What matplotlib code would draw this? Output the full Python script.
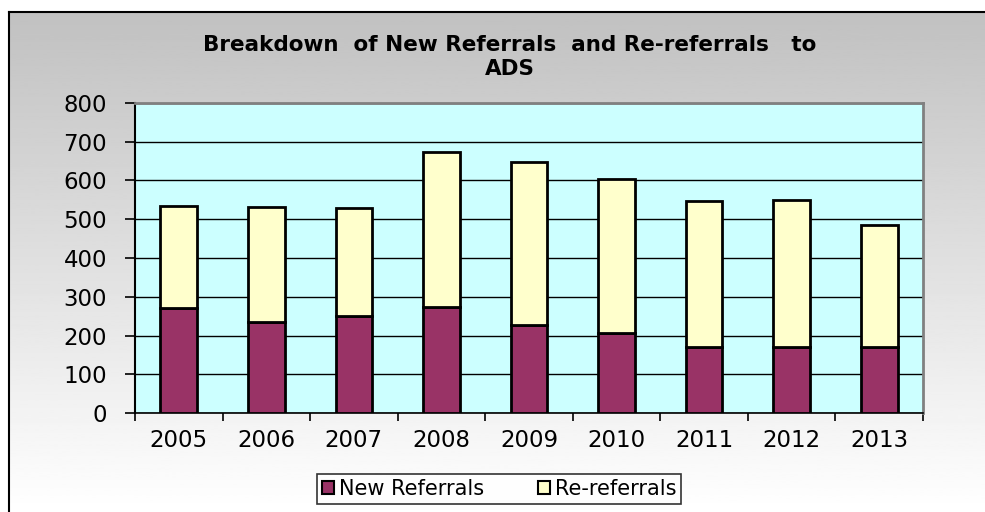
import matplotlib.pyplot as plt
import numpy as np
from matplotlib.ticker import FixedLocator, NullFormatter

years = ["2005", "2006", "2007", "2008", "2009", "2010", "2011", "2012", "2013"]
new_referrals = [272, 234, 250, 275, 228, 207, 172, 172, 172]
re_referrals = [263, 297, 278, 399, 418, 396, 376, 378, 314]

plt.rcParams['font.family'] = ['DejaVu Sans']

fig = plt.figure(figsize=(9.85, 5.12), dpi=100)
fig.patch.set_facecolor("white")

# gradient background of the chart area, gray at top fading to white
bg = fig.add_axes([9 / 985, 0, 1 - 9 / 985, 1 - 12 / 512], zorder=-10)
grad = np.linspace(0, 1, 256).reshape(-1, 1)
bg.imshow(grad, aspect="auto", cmap="gray", vmin=-3.1, vmax=1.0,
          extent=[0, 1, 0, 1], origin="upper")
bg.set_xlim(0, 1)
bg.set_ylim(0, 1)
bg.set_xticks([])
bg.set_yticks([])
for side in ["right", "bottom"]:
    bg.spines[side].set_visible(False)
bg.spines["top"].set_linewidth(1.5)
bg.spines["left"].set_linewidth(1.5)

ax = fig.add_axes([135 / 985, 1 - 413.3 / 512, 788 / 985, 310.6 / 512])
ax.set_facecolor("#CCFFFF")

x = np.arange(len(years))
ax.bar(x, new_referrals, width=0.42, color="#993366", edgecolor="black",
       linewidth=2, label="New Referrals", zorder=3)
ax.bar(x, re_referrals, width=0.42, bottom=new_referrals, color="#FFFFCC",
       edgecolor="black", linewidth=2, label="Re-referrals", zorder=3)

ax.set_ylim(0, 800)
ax.set_xlim(-0.5, len(years) - 0.5)
ax.set_yticks(range(0, 801, 100))
ax.yaxis.grid(True, color="black", linewidth=1)
ax.set_axisbelow(True)

ax.set_xticks(x)
ax.set_xticklabels(years)
ax.xaxis.set_minor_locator(FixedLocator(np.arange(-0.5, len(years), 1)))
ax.xaxis.set_minor_formatter(NullFormatter())
ax.tick_params(axis="x", which="major", length=0, pad=11, labelsize=16.5)
ax.tick_params(axis="x", which="minor", length=6, width=1.2, direction="out")
ax.tick_params(axis="y", length=7, width=1.2, direction="out", pad=13,
               labelsize=16.5)

ax.spines["left"].set_linewidth(1.5)
ax.spines["bottom"].set_linewidth(1.2)
ax.spines["top"].set_color("#808080")
ax.spines["right"].set_color("#808080")
ax.spines["top"].set_linewidth(2)
ax.spines["right"].set_linewidth(2)

fig.text(510 / 985, 1 - 45 / 512, "Breakdown  of New Referrals  and Re-referrals   to",
         ha="center", va="center", fontsize=15.5, fontweight="bold")
fig.text(510 / 985, 1 - 69 / 512, "ADS", ha="center", va="center",
         fontsize=15.5, fontweight="bold")

leg = fig.legend(loc="center", bbox_to_anchor=(499 / 985, 1 - 489 / 512),
                 ncol=2, frameon=True, fancybox=False, fontsize=15,
                 handlelength=0.6, handleheight=0.6, handletextpad=0.2,
                 columnspacing=2.6, borderpad=0.25, borderaxespad=0)
leg.get_frame().set_edgecolor("black")
leg.get_frame().set_linewidth(1.2)
leg.get_frame().set_facecolor("white")
for h in leg.legend_handles:
    h.set_linewidth(1.5)

fig.savefig("out.png", dpi=100)
